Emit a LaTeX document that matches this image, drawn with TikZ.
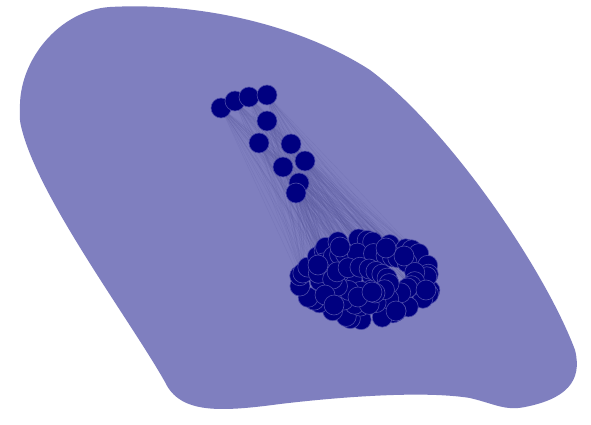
\documentclass[tikz,border=0pt]{standalone}
\usetikzlibrary{calc}
\definecolor{blobfill}{HTML}{7F7FBF}
\definecolor{nodefill}{HTML}{000080}
\definecolor{nodeline}{HTML}{4B4BA8}
\definecolor{edgecol}{HTML}{5A5AA0}
\pgfdeclarelayer{bg}
\pgfsetlayers{bg,main}
\tikzset{
  vert/.style={circle,fill=nodefill,draw=nodeline,line width=0.6pt,minimum size=20pt,inner sep=0pt},
  edge/.style={draw=edgecol,line width=0.3pt,opacity=0.25},
}
\begin{document}
\begin{tikzpicture}[x=1pt,y=-1pt]
\useasboundingbox (0,0) rectangle (591,425);
\begin{pgfonlayer}{bg}
\fill[white] (0,0) rectangle (591,425);
\fill[blobfill] (20,110) .. controls (18,60) and (60,10) .. (110,7)
  .. controls (200,2) and (300,25) .. (370,70)
  .. controls (450,130) and (545,270) .. (575,350)
  .. controls (583,382) and (565,399) .. (525,407)
  .. controls (505,411) and (495,404) .. (470,398)
  .. controls (420,390) and (330,398) .. (280,404)
  .. controls (220,412) and (180,414) .. (165,382)
  .. controls (130,320) and (40,200) .. (22,130)
  .. controls (19,120) and (20,115) .. (20,110) -- cycle;
\end{pgfonlayer}
% chain nodes
\node[vert] (t1) at (221,108) {};
\node[vert] (t2) at (235,101) {};
\node[vert] (t3) at (249,97) {};
\node[vert] (t4) at (267,95) {};
\node[vert] (t5) at (267,121) {};
\node[vert] (t6) at (259,143) {};
\node[vert] (t7) at (291,144) {};
\node[vert] (t8) at (305,161) {};
\node[vert] (t9) at (283,167) {};
\node[vert] (t10) at (299,183) {};
\node[vert] (t11) at (296,193) {};
% cluster: centre fill
\node[vert] (d1) at (352,279) {};
\node[vert] (d2) at (372,276) {};
\node[vert] (d3) at (388,281) {};
\node[vert] (d4) at (340,272) {};
% cluster: outer ring
\foreach \i in {1,...,32}{
  \pgfmathsetmacro{\ang}{11.25*\i+5*sin(97*\i)}
  \pgfmathsetmacro{\rr}{1+0.05*sin(53*\i)}
  \node[vert] (c\i) at ({366+64*\rr*cos(\ang)},{279+39*\rr*sin(\ang)}) {};
}
% middle ring
\foreach \i in {33,...,58}{
  \pgfmathsetmacro{\ang}{13.85*\i+7*sin(71*\i)}
  \pgfmathsetmacro{\rr}{1+0.08*sin(37*\i)}
  \node[vert] (c\i) at ({366+46*\rr*cos(\ang)},{278+27*\rr*sin(\ang)}) {};
}
% inner
\foreach \i in {59,...,72}{
  \pgfmathsetmacro{\ang}{25.7*\i+10*sin(29*\i)}
  \pgfmathsetmacro{\rr}{1+0.15*sin(41*\i)}
  \node[vert] (c\i) at ({362+26*\rr*cos(\ang)},{280+13*\rr*sin(\ang)}) {};
}
\node[vert] (c73) at (325,295) {};
\node[vert] (c74) at (375,293) {};
\node[vert] (c75) at (404,256) {};
\node[vert] (c76) at (318,265) {};
\node[vert] (c77) at (426,290) {};
\node[vert] (c78) at (334,305) {};
\node[vert] (c79) at (396,311) {};
\node[vert] (c80) at (358,297) {};
\node[vert] (c81) at (372,292) {};
\node[vert] (c82) at (386,248) {};
\node[vert] (c83) at (340,247) {};
% edges
\begin{pgfonlayer}{bg}
\foreach \t in {1,...,11}{
  \foreach \c in {2,5,...,72}{
    \draw[edge] (t\t) -- (c\c);
  }
}
\foreach \a/\b in {1/5,2/5,3/6,4/7,5/8,6/9,7/10,8/11,1/9,2/10,3/11,4/9}{
  \draw[edge] (t\a) -- (t\b);
}
\end{pgfonlayer}
\end{tikzpicture}
\end{document}
